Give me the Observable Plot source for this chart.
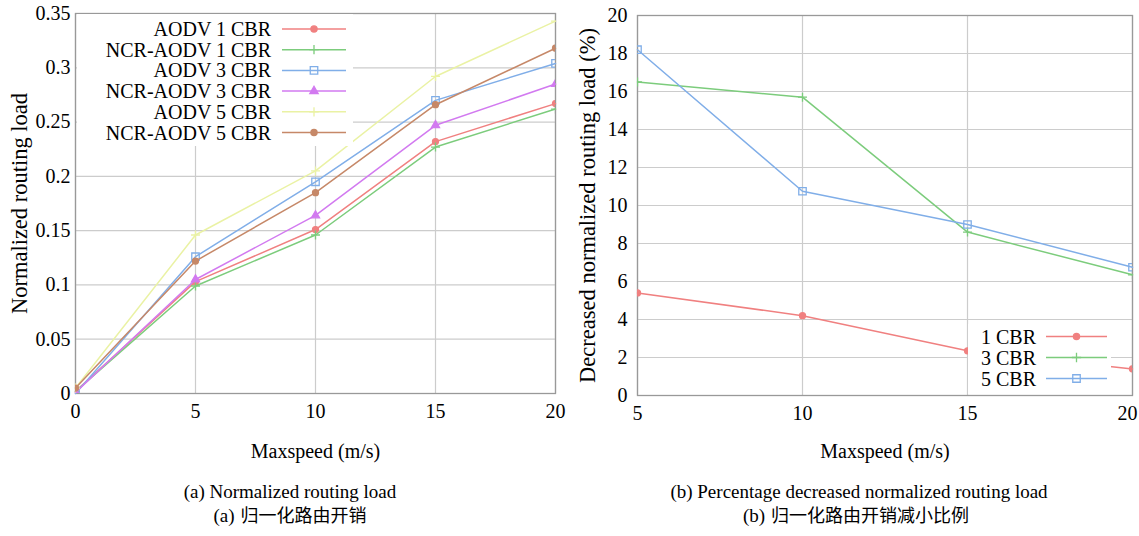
<!DOCTYPE html>
<html>
<head>
<meta charset="utf-8">
<script src="https://cdn.jsdelivr.net/npm/d3@7"></script>
<script src="https://cdn.jsdelivr.net/npm/@observablehq/plot@0.6"></script>
<style>
  html, body { margin: 0; padding: 0; background: #fff; }
  #page { position: relative; width: 1139px; height: 536px; overflow: hidden; font-family: "Liberation Serif", "Times New Roman", serif; }
  .panel { position: absolute; top: 0; }
  .cap { position: absolute; text-align: center; font-size: 19px; line-height: 19px; height: 19px; color: #000; white-space: nowrap; transform: translateX(-50%); }
  .cjk span { font-family: "Noto Sans CJK SC", sans-serif; font-size: 18px; line-height: 19px; margin-left: 6px; }
  svg.legend { position: absolute; left: 0; top: 0; pointer-events: none; }
</style>
</head>
<body>
<div id="page">
  <div id="left" class="panel" style="left:0px"></div>
  <div id="right" class="panel" style="left:570px"></div>
  <div class="cap" style="left:290px; top:482px">(a) Normalized routing load</div>
  <div class="cap cjk" style="left:290px; top:505px">(a)<span>归一化路由开销</span></div>
  <div class="cap" style="left:859px; top:482px">(b) Percentage decreased normalized routing load</div>
  <div class="cap cjk" style="left:856px; top:505px">(b)<span>归一化路由开销减小比例</span></div>
</div>
<script>
// ---------- Data: panel (a) ----------
const speedsA = [0, 5, 10, 15, 20];
const seriesA = ["AODV 1 CBR", "NCR-AODV 1 CBR", "AODV 3 CBR", "NCR-AODV 3 CBR", "AODV 5 CBR", "NCR-AODV 5 CBR"];
const aodv1 = [0.002, 0.103, 0.151, 0.232, 0.267];
const ncr1  = [0.002, 0.099, 0.146, 0.227, 0.262];
const aodv3 = [0.000, 0.126, 0.195, 0.270, 0.304];
const ncr3  = [0.001, 0.105, 0.164, 0.247, 0.285];
const aodv5 = [0.005, 0.146, 0.205, 0.292, 0.343];
const ncr5  = [0.005, 0.122, 0.185, 0.266, 0.318];
const yTicksA = [0, 0.05, 0.1, 0.15, 0.2, 0.25, 0.3, 0.35];
const xTicksA = [0, 5, 10, 15, 20];

// ---------- Data: panel (b) ----------
const speedsB = [5, 10, 15, 20];
const seriesB = ["1 CBR", "3 CBR", "5 CBR"];
const cbr1 = [5.4, 4.2, 2.35, 1.4];
const cbr3 = [16.5, 15.7, 8.6, 6.35];
const cbr5 = [18.2, 10.75, 9.0, 6.75];
const yTicksB = [0, 2, 4, 6, 8, 10, 12, 14, 16, 18, 20];
const xTicksB = [5, 10, 15, 20];

// ---------- Styles ----------
const colorsA = ["#f08080", "#7ccc7c", "#80aee8", "#d27af0", "#eaf2a4", "#c68868"];
const symbolsA = ["circle", "plus", "square", "triangle", "plus", "circle"];
const colorsB = ["#f08080", "#7ccc7c", "#80aee8"];
const symbolsB = ["circle", "plus", "square"];

const valuesA = [aodv1, ncr1, aodv3, ncr3, aodv5, ncr5];
const tableA = seriesA.flatMap((name, i) => speedsA.map((s, j) => ({speed: s, value: valuesA[i][j], series: name, sym: symbolsA[i]})));
const valuesB = [cbr1, cbr3, cbr5];
const tableB = seriesB.flatMap((name, i) => speedsB.map((s, j) => ({speed: s, value: valuesB[i][j], series: name, sym: symbolsB[i]})));

const FS = 20;
const FONT = '"Liberation Serif", "Times New Roman", serif';
const baseStyle = {fontFamily: FONT, fontSize: FS + "px", color: "#000", background: "transparent", overflow: "visible"};

function markSet(table, colors, names) {
  const marks = [];
  names.forEach((n, i) => {
    const d = table.filter(r => r.series === n);
    marks.push(Plot.line(d, {x: "speed", y: "value", stroke: colors[i], strokeWidth: 1.5}));
    const sym = d[0].sym;
    const filled = sym === "circle" || sym === "triangle";
    marks.push(Plot.dot(d, {x: "speed", y: "value", symbol: sym, r: sym === "square" ? 4.2 : 3,
      stroke: colors[i], fill: filled ? colors[i] : "none", strokeWidth: 1.3, clip: "frame"}));
  });
  return marks;
}

const gridStyle = {stroke: "#cccccc", strokeOpacity: 1, strokeWidth: 1.2};

const plotA = Plot.plot({
  width: 570, height: 470,
  marginLeft: 75, marginRight: 15, marginTop: 13, marginBottom: 77,
  style: baseStyle,
  x: {domain: [0, 20]},
  y: {domain: [0, 0.35]},
  marks: [
    Plot.gridX(xTicksA, gridStyle),
    Plot.gridY(yTicksA, gridStyle),
    Plot.frame({stroke: "#999", strokeWidth: 1.3}),
    Plot.axisX(xTicksA, {tickSize: 0, tickPadding: 10, fontSize: FS, label: "Maxspeed (m/s)", labelAnchor: "center", labelArrow: "none", labelOffset: 64}),
    Plot.axisY(yTicksA, {tickSize: 0, tickPadding: 5, fontSize: FS, tickFormat: d3.format(""), label: null}),
    Plot.axisY([], {label: "Normalized routing load", labelAnchor: "center", labelArrow: "none", labelOffset: 64, fontSize: 22.5}),
    ...markSet(tableA, colorsA, seriesA)
  ]
});
document.getElementById("left").appendChild(plotA);

const plotB = Plot.plot({
  width: 569, height: 470,
  marginLeft: 67, marginRight: 7, marginTop: 15, marginBottom: 75,
  style: baseStyle,
  x: {domain: [5, 20]},
  y: {domain: [0, 20]},
  marks: [
    Plot.gridX(xTicksB, gridStyle),
    Plot.gridY(yTicksB, gridStyle),
    Plot.frame({stroke: "#999", strokeWidth: 1.3}),
    Plot.axisX(xTicksB.slice(0, -1), {tickSize: 0, tickPadding: 10, fontSize: FS, label: "Maxspeed (m/s)", labelAnchor: "center", labelArrow: "none", labelOffset: 62}),
    Plot.axisX(xTicksB.slice(-1), {tickSize: 0, tickPadding: 10, fontSize: FS, dx: -5, label: null}),
    Plot.axisY(yTicksB, {tickSize: 0, tickPadding: 10, fontSize: FS, label: null}),
    Plot.axisY([], {label: "Decreased normalized routing load (%)", labelAnchor: "center", labelArrow: "none", labelOffset: 58, fontSize: 22.5}),
    ...markSet(tableB, colorsB, seriesB)
  ]
});
document.getElementById("right").appendChild(plotB);

// ---------- Legends ----------
function legend(parent, box, names, colors, symbols, textRight, lineX0, lineX1, y0, dy) {
  const svg = d3.select(parent).append("svg").attr("class", "legend")
    .attr("width", 1139).attr("height", 536)
    .style("font-family", FONT).style("font-size", FS + "px");
  svg.append("rect").attr("x", box[0]).attr("y", box[1]).attr("width", box[2]).attr("height", box[3]).attr("fill", "#fff");
  names.forEach((n, i) => {
    const y = y0 + i * dy;
    svg.append("text").attr("x", textRight).attr("y", y).attr("dy", "0.35em").attr("text-anchor", "end").text(n);
    svg.append("line").attr("x1", lineX0).attr("x2", lineX1).attr("y1", y).attr("y2", y).attr("stroke", colors[i]).attr("stroke-width", 1.5);
    const sym = symbols[i];
    const size = sym === "square" ? 56 : 30;
    const map = {circle: d3.symbolCircle, plus: d3.symbolPlus, square: d3.symbolSquare, triangle: d3.symbolTriangle};
    const filled = sym === "circle" || sym === "triangle";
    svg.append("path").attr("d", d3.symbol(map[sym], size)()).attr("transform", `translate(${(lineX0 + lineX1) / 2},${y})`)
      .attr("stroke", colors[i]).attr("fill", filled ? colors[i] : "none").attr("stroke-width", 1.3);
  });
}
const page = document.getElementById("page");
legend(page, [77, 14, 276, 132], seriesA, colorsA, symbolsA, 271, 282, 346, 29, 20.7);
legend(page, [968, 324, 143, 70], seriesB, colorsB, symbolsB, 1036, 1046, 1107, 336.5, 21);
</script>
</body>
</html>
